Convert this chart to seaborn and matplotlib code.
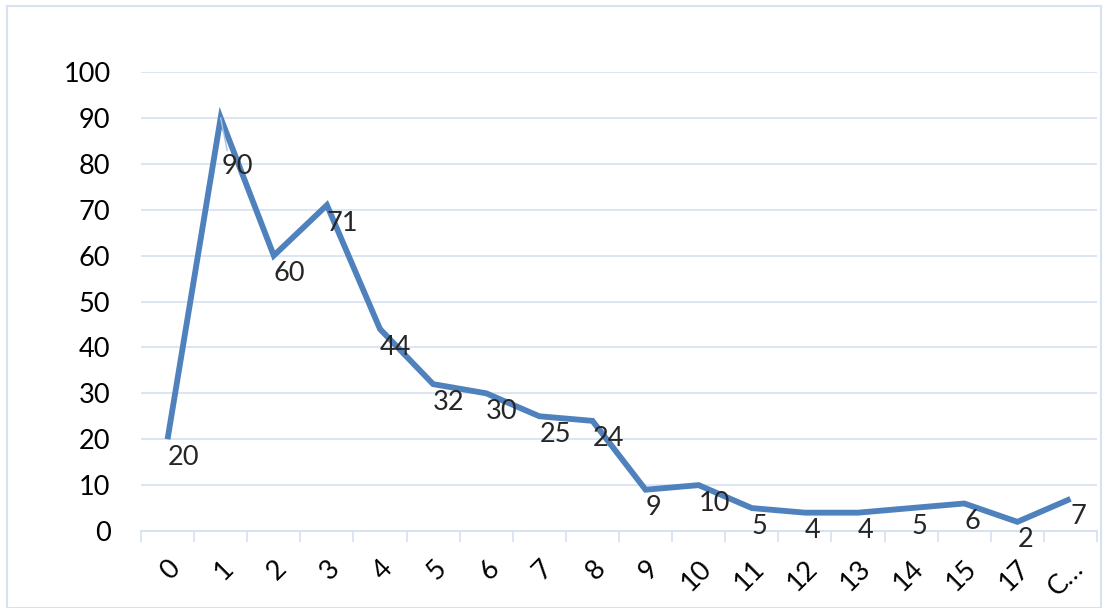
import matplotlib
matplotlib.use("Agg")
import matplotlib.pyplot as plt
import seaborn as sns
import pandas as pd
import numpy as np
from matplotlib.ticker import FixedLocator, MultipleLocator

categories = ["0", "1", "2", "3", "4", "5", "6", "7", "8", "9", "10",
              "11", "12", "13", "14", "15", "17", "C…"]
values = [20, 90, 60, 71, 44, 32, 30, 25, 24, 9, 10, 5, 4, 4, 5, 6, 2, 7]

df = pd.DataFrame({"pos": np.arange(len(categories)), "value": values})

sns.set_theme(style="white")
plt.rcParams["font.family"] = ["Lato", "DejaVu Sans"]

line_color = "#4F81BD"
grid_color = "#D6E2F1"
fs = 19.5

fig = plt.figure(figsize=(11.05, 6.08), dpi=100)
ax = fig.add_axes([0.1276, 0.1266, 0.8652, 0.755])

sns.lineplot(data=df, x="pos", y="value", ax=ax, color=line_color,
             linewidth=4.2, solid_joinstyle="miter", solid_capstyle="butt")

ax.set_xlim(-0.5, len(categories) - 0.5)
ax.set_ylim(0, 100)
ax.yaxis.set_major_locator(MultipleLocator(10))
ax.grid(axis="y", color=grid_color, linewidth=1.2)
ax.set_axisbelow(True)

for side in ["top", "right", "left"]:
    ax.spines[side].set_visible(False)
ax.spines["bottom"].set_color(grid_color)
ax.spines["bottom"].set_linewidth(1.4)

ax.set_xticks(df["pos"])
ax.set_xticklabels(categories, rotation=45, ha="right", rotation_mode="anchor",
                   fontsize=fs, color="black")
ax.xaxis.set_minor_locator(FixedLocator(np.arange(-0.5, len(categories), 1.0)))
ax.tick_params(axis="x", which="major", length=0, pad=18)
ax.tick_params(axis="x", which="minor", length=8, width=1.2, color=grid_color,
               direction="out", bottom=True)
ax.tick_params(axis="y", length=0, pad=22, labelsize=fs, labelcolor="black")
ax.set_xlabel("")
ax.set_ylabel("")

# value labels just below-right of each point
for x, v in zip(df["pos"], values):
    if v == 90:
        ax.annotate(str(v), xy=(x, v), xytext=(1, -26), textcoords="offset points",
                    ha="left", va="top", fontsize=fs,
                    arrowprops=dict(arrowstyle="-", color="#A9C4E6", lw=1,
                                    shrinkA=0, shrinkB=0,
                                    relpos=(0.2, 0.9)))
    else:
        ax.annotate(str(v), xy=(x, v), xytext=(0, -4), textcoords="offset points",
                    ha="left", va="top", fontsize=fs)

# thin outer frame
fig.patches.append(plt.Rectangle((0.0065, 0.0), 0.99, 0.99, transform=fig.transFigure,
                                 fill=False, edgecolor=grid_color, linewidth=1.5))

fig.savefig("out.png", dpi=100)
